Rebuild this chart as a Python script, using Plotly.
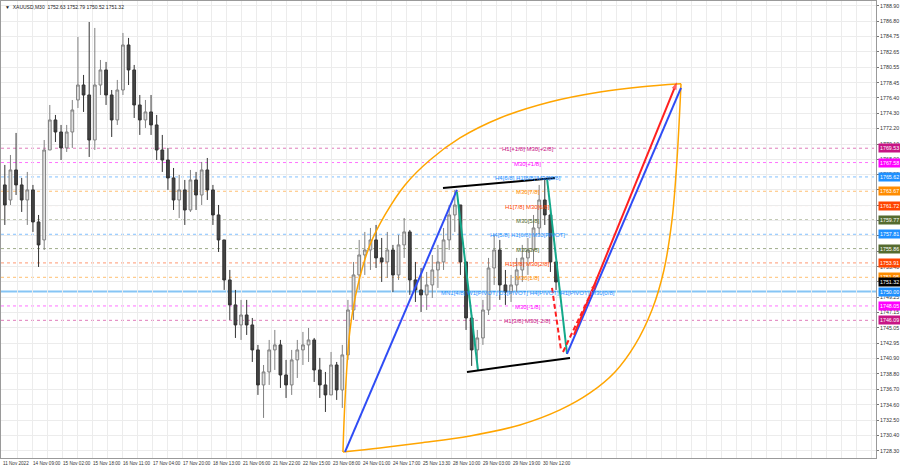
import plotly.graph_objects as go

# ---------------- data ----------------
title_text = "▼  XAUUSD,M30  1752.63 1752.79 1750.52 1751.32"

# aggregated candles (each = 6 M30 bars)
o = [1764.53,1762.48,1766.57,1764.53,1762.48,1763.85,1759.49,1757.04,1769.29,1773.38,
     1771.74,1769.57,1771.74,1776.10,1778.14,1776.78,1770.65,1778.14,1780.19,1776.78,
     1773.38,1777.46,1783.59,1780.19,1775.42,1773.38,1774.47,1772.70,1769.29,1767.93,
     1765.48,1762.48,1763.85,1761.12,1765.21,1763.16,1766.57,1763.85,1760.44,1757.04,
     1751.59,1748.19,1745.46,1746.82,1745.46,1742.06,1737.29,1739.06,1742.06,1742.74,
     1738.65,1737.29,1740.70,1742.06,1742.74,1743.42,1739.33,1737.29,1735.93,1740.01,
     1736.61,1741.38,1747.50,1752.27,1754.99,1755.67,1757.04,1754.59,1754.04,1755.67,
     1752.27,1756.36,1758.13,1751.59,1750.23,1749.55,1750.91,1752.95,1754.04,1757.04,
     1760.44,1761.80,1754.04,1746.41,1742.06,1743.69,1747.50,1753.22,1755.67,1750.91,
     1749.96,1750.91,1752.95,1754.59,1755.67,1758.67,1762.48,1760.44,1754.04]
h = [1767.25,1768.61,1771.61,1765.48,1766.30,1764.53,1760.44,1770.65,1775.42,1774.06,
     1772.70,1772.70,1776.10,1784.68,1779.51,1786.72,1785.91,1781.55,1781.28,1777.46,
     1778.83,1785.23,1784.55,1780.87,1776.78,1776.10,1776.78,1774.06,1771.34,1769.57,
     1766.84,1765.89,1765.21,1766.57,1766.30,1767.66,1768.20,1764.53,1761.80,1757.04,
     1752.95,1750.23,1748.87,1748.87,1746.41,1742.74,1740.01,1743.42,1744.78,1743.42,
     1740.70,1742.06,1743.42,1744.51,1745.05,1743.69,1740.97,1739.06,1741.78,1740.42,
     1742.74,1748.87,1754.04,1757.04,1758.13,1758.67,1759.08,1757.31,1758.13,1756.36,
     1757.72,1760.03,1758.40,1754.04,1753.22,1752.68,1754.99,1756.36,1758.67,1761.80,
     1763.85,1761.80,1754.04,1746.82,1744.78,1748.87,1754.59,1757.72,1757.04,1752.95,
     1752.27,1754.59,1756.36,1757.31,1760.44,1764.53,1765.48,1761.80,1754.04]
l = [1759.08,1761.80,1763.16,1760.85,1759.08,1758.13,1753.36,1755.67,1769.29,1770.38,
     1767.93,1769.02,1769.57,1775.01,1774.47,1768.34,1769.29,1776.78,1775.42,1771.06,
     1772.70,1776.78,1778.14,1773.65,1771.34,1772.29,1771.34,1767.93,1766.30,1763.85,
     1761.12,1760.03,1759.08,1760.85,1761.12,1761.80,1762.48,1759.08,1755.40,1750.23,
     1746.14,1743.69,1743.42,1744.10,1740.42,1735.93,1732.80,1737.29,1739.33,1736.88,
     1735.52,1735.93,1738.24,1740.01,1740.42,1737.70,1735.52,1733.61,1735.93,1735.25,
     1734.16,1740.70,1746.14,1750.23,1752.27,1752.95,1753.22,1751.32,1751.86,1749.96,
     1751.59,1754.59,1749.55,1748.59,1747.23,1747.50,1749.14,1750.50,1752.95,1755.67,
     1758.13,1752.27,1744.78,1739.88,1739.61,1742.74,1746.82,1750.91,1748.87,1748.19,
     1748.59,1749.96,1751.32,1752.27,1754.04,1757.72,1759.08,1752.68,1750.23]
c = [1761.80,1766.57,1764.53,1762.48,1763.85,1759.49,1756.36,1769.29,1773.38,1771.74,
     1769.57,1771.74,1774.74,1778.14,1776.78,1770.65,1778.14,1780.19,1776.78,1773.38,
     1777.46,1783.59,1780.19,1775.42,1773.38,1774.47,1772.70,1769.29,1767.93,1765.48,
     1762.48,1763.85,1761.12,1765.21,1763.16,1766.57,1763.85,1760.44,1757.04,1751.59,
     1748.19,1745.46,1746.82,1745.46,1742.06,1737.29,1739.06,1742.06,1742.74,1738.65,
     1737.29,1740.70,1742.06,1742.74,1743.42,1739.33,1737.29,1735.93,1740.01,1736.61,
     1741.38,1747.50,1752.27,1754.99,1755.67,1757.04,1754.59,1754.04,1755.67,1752.27,
     1756.36,1758.13,1751.59,1750.23,1749.55,1750.91,1752.95,1754.04,1757.04,1760.44,
     1761.80,1754.04,1746.41,1742.06,1743.69,1747.50,1753.22,1755.67,1750.91,1749.96,
     1750.91,1752.95,1754.59,1755.67,1758.67,1762.48,1760.44,1754.04,1751.32]
bars_per_candle = 6
candle_idx = [bars_per_candle * k + 3 for k in range(len(c))]

# time axis labels (bar index, text)
xtick_idx = [0, 32, 64, 96, 128, 160, 192, 224, 256, 288, 320, 352, 384, 416, 448, 480, 512, 544, 576]
xtick_txt = ['11 Nov 2022', '14 Nov 09:00', '15 Nov 02:00', '15 Nov 18:00', '16 Nov 11:00',
             '17 Nov 04:00', '17 Nov 20:00', '18 Nov 13:00', '21 Nov 06:00', '21 Nov 22:00',
             '22 Nov 15:00', '23 Nov 08:00', '24 Nov 01:00', '24 Nov 17:00', '25 Nov 13:30',
             '28 Nov 10:00', '29 Nov 03:00', '29 Nov 19:00', '30 Nov 12:00']

ytick_vals = [1788.90, 1786.80, 1784.75, 1782.65, 1780.55, 1778.45, 1776.40, 1774.30, 1772.20,
              1770.10, 1768.00, 1765.95, 1763.85, 1761.75, 1759.70, 1757.60, 1755.50, 1753.40,
              1751.35, 1749.25, 1747.15, 1745.05, 1742.95, 1740.90, 1738.80, 1736.70, 1734.60,
              1732.50, 1730.40, 1728.30]
ytick_txt = ['%.2f' % v for v in ytick_vals]

# Murrey levels
level_prices = [1769.53, 1767.58, 1765.62, 1763.67, 1761.72, 1759.77, 1757.81,
                1755.86, 1753.91, 1751.95, 1750.00, 1748.05, 1746.09]
level_colors = ['#C71585', '#FF00FF', '#1E90FF', '#FF8C00', '#FF4500', '#556B2F', '#1E90FF',
                '#556B2F', '#FF4500', '#FF8C00', '#1E90FF', '#FF00FF', '#C71585']
level_texts = ['H1[+1/8] M30[+2/8]', 'M30[+1/8]', 'H4[6/8] H1[8/8] M30[8/8]', 'M30[7/8]',
               'H1[7/8] M30[6/8]', 'M30[5/8]', 'H4[5/8] H1[6/8] M30[PIVOT]', 'M30[3/8]',
               'H1[5/8] M30[2/8]', 'M30[1/8]',
               'MN1[4/8] W1[PIVOT] D1[PIVOT] H4[PIVOT] H1[PIVOT] M30[0/8]',
               'M30[-1/8]', 'H1[3/8] M30[-2/8]']
last_price = 1751.32
level_text_idx = 561

# pattern drawings (bar index, price)
blue1_x, blue1_y = [365.9, 485.3], [1728.17, 1763.85]
green1_x, green1_y = [485.3, 507.7], [1763.57, 1739.33]
green2_x, green2_y = [581.3, 602.7], [1765.48, 1741.51]
black_top_x, black_top_y = [470.4, 589.9], [1764.12, 1765.48]
black_bot_x, black_bot_y = [496.0, 605.9], [1739.06, 1740.97]
blue2_x, blue2_y = [602.7, 724.3], [1741.51, 1777.74]
red_x, red_y = [610.1, 720.0], [1744.10, 1778.55]
red_dn_x, red_dn_y = [586.7, 596.3], [1750.50, 1742.06]
red_up_x, red_up_y = [598.4, 634.1], [1741.78, 1751.32]
orange_top_x = [363.7, 365.9, 371.2, 379.7, 392.5, 408.5, 429.9, 456.5, 488.5, 531.2, 584.5, 637.9, 680.5, 724.3]
orange_top_y = [1728.17, 1735.25, 1744.78, 1750.91, 1756.36, 1760.44, 1764.53, 1767.93, 1770.93,
                1773.65, 1775.83, 1777.19, 1777.87, 1778.30]
orange_bot_x = [363.7, 403.2, 445.9, 499.2, 552.5, 595.2, 627.2, 653.9, 675.2, 693.3, 706.1, 714.7, 720.0, 724.3]
orange_bot_y = [1728.17, 1728.71, 1729.39, 1730.35, 1731.84, 1733.89, 1736.20, 1739.06, 1742.74,
                1747.50, 1752.95, 1759.76, 1767.93, 1778.30]

# ---------------- figure ----------------
FONT = "Liberation Sans, Arial, sans-serif"
fig = go.Figure()

# level lines
for p, col in zip(level_prices, level_colors):
    if p == 1750.00:
        fig.add_shape(type='line', xref='paper', x0=0, x1=1, y0=p, y1=p, yref='y',
                      line=dict(color='#86C5F5', width=2), layer='below')
    else:
        fig.add_shape(type='line', xref='paper', x0=0, x1=1, y0=p, y1=p, yref='y',
                      line=dict(color=col, width=1, dash='3px,3px'), opacity=0.55, layer='below')

fig.add_trace(go.Candlestick(
    x=candle_idx, open=o, high=h, low=l, close=c,
    increasing=dict(line=dict(color='#808080', width=1), fillcolor='#e0e0e0'),
    decreasing=dict(line=dict(color='#333333', width=1), fillcolor='#444444'),
    whiskerwidth=0, showlegend=False, hoverinfo='skip'))

def line(xs, ys, color, width=2, dash=None, shape='linear'):
    fig.add_trace(go.Scatter(x=xs, y=ys, mode='lines', showlegend=False, hoverinfo='skip',
                             line=dict(color=color, width=width, dash=dash, shape=shape)))

line(orange_top_x, orange_top_y, '#FFA500', 1.5, shape='spline')
line(orange_bot_x, orange_bot_y, '#FFA500', 1.5, shape='spline')
line(blue1_x, blue1_y, '#2F4CF5')
line(green1_x, green1_y, '#14A88A')
line(green2_x, green2_y, '#14A88A')
line(black_top_x, black_top_y, '#000000')
line(black_bot_x, black_bot_y, '#000000')
line(blue2_x, blue2_y, '#2F4CF5')
line(red_dn_x, red_dn_y, '#FF2020', 2, dash='5px,3px')

for xs, ys, dsh in [(red_x, red_y, None), (red_up_x, red_up_y, '5px,3px')]:
    fig.add_trace(go.Scatter(x=xs, y=ys, mode='lines+markers', showlegend=False, hoverinfo='skip',
                             line=dict(color='#FF2020', width=2, dash=dsh),
                             marker=dict(symbol='arrow', angleref='previous', size=[0, 8],
                                         color='#FF2020', line=dict(width=0))))

# level texts in chart
for p, col, t in zip(level_prices, level_colors, level_texts):
    fig.add_annotation(x=level_text_idx, y=p, text=t, showarrow=False, xanchor='center',
                       yanchor='middle', yshift=-1, font=dict(family=FONT, size=6, color=col))

# price tags on the axis
for p, col in zip(level_prices, level_colors):
    fig.add_annotation(xref='paper', x=1, y=p, text='%.2f' % p, showarrow=False, xanchor='left',
                       yanchor='middle', xshift=2, bgcolor=col, borderpad=1,
                       font=dict(family=FONT, size=5.3, color='white'))
fig.add_annotation(xref='paper', x=1, y=last_price, text='%.2f' % last_price, showarrow=False,
                   xanchor='left', yanchor='middle', xshift=2, bgcolor='#000000', borderpad=1,
                   font=dict(family=FONT, size=5.3, color='white'))

# time labels
for xi, t in zip(xtick_idx, xtick_txt):
    fig.add_annotation(x=xi, y=0, yref='paper', text=t, showarrow=False, xanchor='left',
                       yanchor='top', yshift=-1, xshift=-1, font=dict(family=FONT, size=4.6, color='#333333'))

fig.add_annotation(xref='paper', yref='paper', x=0, y=1, text=title_text, showarrow=False,
                   xanchor='left', yanchor='top', xshift=2, yshift=-1,
                   font=dict(family=FONT, size=5, color='#222222'))

fig.update_layout(
    width=900, height=468,
    margin=dict(l=1, r=24, t=1, b=10),
    paper_bgcolor='white', plot_bgcolor='white',
    xaxis=dict(range=[-1.07, 932.3], rangeslider=dict(visible=False), tick0=0, dtick=32,
               showticklabels=False, showgrid=True, gridcolor='#ececec', gridwidth=1,
               minor=dict(dtick=16, tick0=0, showgrid=True, gridcolor='#ececec'),
               zeroline=False, showline=True, linecolor='#9a9a9a', mirror=True, fixedrange=True),
    yaxis=dict(range=[1727.34, 1789.58], side='right', tickvals=ytick_vals, ticktext=ytick_txt,
               showgrid=True, gridcolor='#ececec', ticks='outside', ticklen=2, tickcolor='#777',
               tickfont=dict(family=FONT, size=5.3, color='#333333'), zeroline=False,
               showline=True, linecolor='#9a9a9a', mirror=True, fixedrange=True),
)

fig.write_html("out.html", config={'displayModeBar': False},
               post_script="document.body.style.margin='0';document.body.style.padding='0';")
